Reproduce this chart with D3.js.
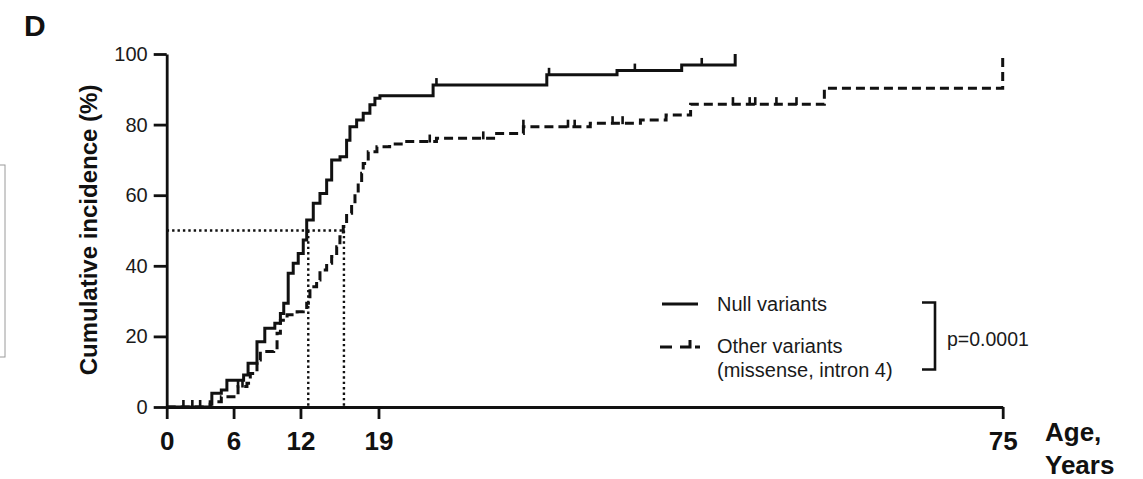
<!DOCTYPE html>
<html>
<head>
<meta charset="utf-8">
<script src="https://cdn.jsdelivr.net/npm/d3@7"></script>
<style>
  html, body { margin: 0; padding: 0; background: #fff; }
  svg { display: block; font-family: "Liberation Sans", Arial, Helvetica, sans-serif; }
</style>
</head>
<body>
<svg id="chart" width="1143" height="479"></svg>
<script>
// ---------- data ----------
const xTicks = [0, 6, 12, 19, 75];
const yTicks = [0, 20, 40, 60, 80, 100];

// Null variants (solid) : event ages and cumulative incidence (%)
const nullAges = [0, 3.9, 4.05, 4.9, 5.4, 6.9, 7.3, 8.1, 8.8, 9.7, 10.2, 10.5, 10.9, 11.35, 11.8, 12.25, 12.56,
  13.15, 13.75, 14.35, 14.8, 15.55, 16.14, 16.44, 17.04, 17.63, 18.23, 18.68, 19.13, 23.9, 34.1, 40.4, 46.2, 51.0];
const nullPct = [0, 0.8, 3.9, 4.8, 7.6, 9.1, 12.4, 18.5, 22.3, 23.7, 26.5, 29.4, 37.9, 40.7, 43.5, 47.3, 53.0,
  57.7, 60.5, 64.3, 70.0, 70.9, 75.6, 79.4, 81.3, 83.2, 85.6, 87.5, 88.2, 91.2, 94.1, 95.3, 96.9, 100];
const nullCensor = [1.5, 2.3, 3.0, 24.2, 34.3, 42.0, 48.0];

// Other variants (dashed)
const otherAges = [0, 3.9, 4.9, 6.4, 7.2, 7.5, 8.1, 8.4, 9.6, 9.9, 10.2, 10.8, 11.7, 12.25, 12.56, 12.85, 13.45,
  13.75, 14.35, 14.8, 15.25, 15.54, 15.84, 16.14, 16.59, 16.89, 17.18, 17.49, 17.63, 18.08, 18.86, 20.0, 21.2,
  24.2, 29.6, 32.0, 38.0, 42.5, 44.8, 47.0, 59.0, 75.0];
const otherPct = [0, 1.5, 2.9, 5.8, 6.7, 9.5, 13.3, 15.7, 16.1, 20.9, 24.6, 26.1, 27.0, 27.5, 29.4, 34.1, 36.0,
  38.8, 40.7, 42.6, 45.4, 48.2, 51.1, 54.9, 57.7, 60.5, 62.9, 66.2, 69.0, 72.3, 73.7, 74.5, 75.2,
  76.1, 77.5, 79.4, 80.4, 81.3, 82.7, 85.8, 90.3, 100];
const otherCensor = [6.4, 6.8, 23.6, 28.4, 32.0, 36.0, 36.6, 40.0, 40.9, 50.8, 52.3, 52.8, 54.7, 56.5];

const medianLevel = 50;
const medianNull = 12.7;
const medianOther = 15.9;

const seriesNames = ["Null variants", "Other variants", "(missense, intron 4)"];
const pLabel = "p=0.0001";

// ---------- layout ----------
const svg = d3.select("#chart");
const x = d3.scaleLinear().domain([0, 75]).range([166.7, 1002.7]);
const y = d3.scaleLinear().domain([0, 100]).range([407, 54]);
const ink = "#111";

// stray frame at the left edge
svg.append("rect").attr("x", -10).attr("y", 165).attr("width", 15).attr("height", 192)
  .attr("fill", "none").attr("stroke", "#9a9a9a").attr("stroke-width", 1);

// panel letter
svg.append("text").attr("x", 24).attr("y", 36).attr("font-size", 30).attr("font-weight", "bold").attr("fill", ink).text("D");

// axes
const gx = svg.append("g").attr("transform", `translate(0,${y(0)})`)
  .call(d3.axisBottom(x).tickValues(xTicks).tickSize(12).tickSizeOuter(0).tickPadding(13));
gx.selectAll("text").attr("font-size", 26).attr("font-weight", "bold").attr("fill", ink)
  .attr("font-family", "Liberation Sans, Arial, sans-serif");
const gy = svg.append("g").attr("transform", `translate(${x(0)},0)`)
  .call(d3.axisLeft(y).tickValues(yTicks).tickSize(13).tickSizeOuter(0).tickPadding(6));
gy.selectAll("text").attr("font-size", 20).attr("fill", "#1a1a1a")
  .attr("font-family", "Liberation Sans, Arial, sans-serif");
[gx, gy].forEach(g => {
  g.selectAll("path.domain").attr("stroke", ink).attr("stroke-width", 2.8);
  g.selectAll(".tick line").attr("stroke", ink).attr("stroke-width", 2.8);
});

// axis titles
svg.append("text").attr("transform", `translate(97,230) rotate(-90)`).attr("text-anchor", "middle")
  .attr("font-size", 24).attr("font-weight", "bold").attr("fill", ink).text("Cumulative incidence (%)");
svg.append("text").attr("x", 1045).attr("y", 441).attr("font-size", 26).attr("font-weight", "bold").attr("fill", ink).text("Age,");
svg.append("text").attr("x", 1045).attr("y", 474).attr("font-size", 26).attr("font-weight", "bold").attr("fill", ink).text("Years");

// median dotted lines
const dot = svg.append("g").attr("stroke", ink).attr("stroke-width", 2.4).attr("stroke-dasharray", "2.4,3").attr("fill", "none");
dot.append("line").attr("x1", x(0)).attr("x2", x(medianOther)).attr("y1", y(medianLevel)).attr("y2", y(medianLevel));
dot.append("line").attr("x1", x(medianNull)).attr("x2", x(medianNull)).attr("y1", y(medianLevel)).attr("y2", y(0));
dot.append("line").attr("x1", x(medianOther)).attr("x2", x(medianOther)).attr("y1", y(medianLevel)).attr("y2", y(0));

// curves
const line = d3.line().x(d => x(d[0])).y(d => y(d[1])).curve(d3.curveStepAfter);
const nullData = nullAges.map((a, i) => [a, nullPct[i]]);
const otherData = otherAges.map((a, i) => [a, otherPct[i]]);

svg.append("path").datum(otherData).attr("d", line).attr("fill", "none").attr("stroke", ink)
  .attr("stroke-width", 3).attr("stroke-dasharray", "9,5");
svg.append("path").datum(nullData).attr("d", line).attr("fill", "none").attr("stroke", ink)
  .attr("stroke-width", 3);

// censor marks
function stepAt(ages, pcts, a) {
  const i = d3.bisectRight(ages, a) - 1;
  return pcts[Math.max(0, i)];
}
svg.append("g").selectAll("line").data(nullCensor).join("line")
  .attr("x1", d => x(d)).attr("x2", d => x(d))
  .attr("y1", d => y(stepAt(nullAges, nullPct, d)) + 1)
  .attr("y2", d => y(stepAt(nullAges, nullPct, d)) - 7)
  .attr("stroke", ink).attr("stroke-width", 2.6);
svg.append("g").selectAll("line").data(otherCensor).join("line")
  .attr("x1", d => x(d)).attr("x2", d => x(d))
  .attr("y1", d => y(stepAt(otherAges, otherPct, d)) + 1)
  .attr("y2", d => y(stepAt(otherAges, otherPct, d)) - 7)
  .attr("stroke", ink).attr("stroke-width", 2.6);

// legend
const lg = svg.append("g");
lg.append("line").attr("x1", 662).attr("x2", 698).attr("y1", 304).attr("y2", 304)
  .attr("stroke", ink).attr("stroke-width", 3);
lg.append("path").attr("d", "M660,347 H672 M680,347 H690 V340 M695,347 H700")
  .attr("fill", "none").attr("stroke", ink).attr("stroke-width", 3);
lg.append("text").attr("x", 717).attr("y", 311).attr("font-size", 20).attr("fill", "#1a1a1a").text(seriesNames[0]);
lg.append("text").attr("x", 717).attr("y", 353).attr("font-size", 20).attr("fill", "#1a1a1a").text(seriesNames[1]);
lg.append("text").attr("x", 717).attr("y", 377).attr("font-size", 20).attr("fill", "#1a1a1a").text(seriesNames[2]);
lg.append("path").attr("d", "M922,302.5 H935 V369.5 H922").attr("fill", "none")
  .attr("stroke", ink).attr("stroke-width", 2.6);
lg.append("text").attr("x", 947).attr("y", 346).attr("font-size", 19.5).attr("fill", "#1a1a1a").text(pLabel);
</script>
</body>
</html>
